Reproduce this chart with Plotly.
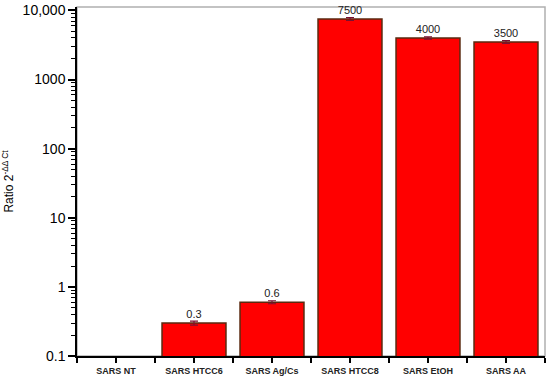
import plotly.graph_objects as go

categories = ["SARS NT", "SARS HTCC6", "SARS Ag/Cs", "SARS HTCC8", "SARS EtOH", "SARS AA"]
values = [None, 0.3, 0.6, 7500, 4000, 3500]
errors = [0, 0.02, 0.03, 350, 150, 150]
labels = ["", "0.3", "0.6", "7500", "4000", "3500"]

xpos = list(range(len(categories)))

fig = go.Figure()
fig.add_trace(go.Bar(
    x=xpos, y=values, width=0.82,
    marker=dict(color="#ff0000", line=dict(color="#5a2a10", width=1.5)),
    error_y=dict(type="data", array=errors, visible=True, color="#7a1030", thickness=1.2, width=4),
    text=labels, textposition="outside", cliponaxis=False,
    textfont=dict(family="Arial, Liberation Sans", size=11, color="#222222"),
))

fig.update_layout(
    width=550, height=379,
    margin=dict(l=77, r=5, t=7, b=23),
    plot_bgcolor="white", paper_bgcolor="white",
    showlegend=False,
    font=dict(family="Arial, Liberation Sans", color="black"),
    shapes=[dict(type="rect", xref="paper", yref="paper", x0=0, y0=0, x1=1, y1=1,
                 line=dict(color="#b0b0b0", width=1.5), layer="below")],
)
fig.update_xaxes(
    range=[-0.5, 5.5], tickmode="linear", tick0=0, dtick=1,
    labelalias={str(i): c for i, c in enumerate(categories)},
    tickfont=dict(size=9, family="Liberation Sans", color="#222222", weight="bold"),
    showline=True, linecolor="black", linewidth=1.5,
    ticks="outside", ticklen=5, tickcolor="black", tickwidth=1.5,
    minor=dict(dtick=0.5, ticks="outside", ticklen=5, tickcolor="black", tickwidth=1.5),
    showgrid=False, zeroline=False, automargin=False,
)
fig.update_yaxes(
    type="log", range=[-1, 4.05], dtick=1, tickformat=",",
    labelalias={"1,000": "1000"},
    tickfont=dict(size=14, family="Arial, Liberation Sans", color="black"),
    showline=True, linecolor="black", linewidth=1.5,
    ticks="outside", ticklen=7, tickcolor="black", tickwidth=1.5,
    minor=dict(ticks="outside", ticklen=4, tickcolor="black", tickwidth=1, showgrid=False),
    showgrid=False, zeroline=False, automargin=False,
    title=dict(text="Ratio 2<sup>-ΔΔ Ct</sup>", font=dict(size=12, color="black"), standoff=6),
)
fig.write_html("out.html", config={"displayModeBar": False},
               post_script="document.body.style.margin='0';")
